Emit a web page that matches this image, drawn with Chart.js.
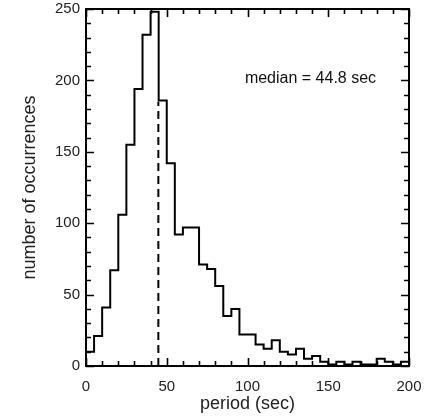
<!DOCTYPE html>
<html>
<head>
<meta charset="utf-8">
<script src="https://cdn.jsdelivr.net/npm/chart.js@4/dist/chart.umd.min.js"></script>
<style>
  html, body { margin: 0; padding: 0; background: #fff; }
  #wrap { width: 428px; height: 416px; }
</style>
</head>
<body>
<div id="wrap"><canvas id="hist"></canvas></div>
<script>
// left edge of each 5 s bin
const binStarts = [0, 5, 10, 15, 20, 25, 30, 35, 40, 45,
  50, 55, 60, 65, 70, 75, 80, 85, 90, 95,
  100, 105, 110, 115, 120, 125, 130, 135, 140, 145,
  150, 155, 160, 165, 170, 175, 180, 185, 190, 195];
const binEnd = 200;
// number of occurrences per bin
const counts = [10, 21, 41, 67, 106, 155, 194, 232, 248, 186,
  142, 92, 97, 97, 71, 68, 56, 35, 40, 22,
  22, 15, 12, 18, 10, 8, 12, 5, 7, 3,
  1, 3, 1, 3, 1, 1, 5, 3, 1, 3];
const medianPeriod = 44.8;
const medianTop = 185;
const medianLabel = "median = 44.8 sec";

const xTicks = [0, 50, 100, 150, 200];
const yTicks = [0, 50, 100, 150, 200, 250];

const puntosHist = binStarts.map((x, i) => ({ x: x, y: counts[i] }));
puntosHist.push({ x: binEnd, y: counts[counts.length - 1] });

const fuente = "'Liberation Sans', Arial, Helvetica, sans-serif";

// ticks hacia dentro en los cuatro lados + marco + texto de la mediana
const marcoIDL = {
  id: "marcoIDL",
  afterDatasetsDraw(chart) {
    const { ctx, chartArea: a, scales } = chart;
    const x = scales.x, y = scales.y;
    ctx.save();
    ctx.strokeStyle = "#000";
    ctx.lineWidth = 1.6;
    ctx.beginPath();
    for (let v = xTicks[0]; v <= xTicks[xTicks.length - 1]; v += 10) {
      const px = Math.round(x.getPixelForValue(v)) + 0.5;
      const len = v % 50 === 0 ? 8 : 5;
      ctx.moveTo(px, a.bottom); ctx.lineTo(px, a.bottom - len);
      ctx.moveTo(px, a.top); ctx.lineTo(px, a.top + len);
    }
    for (let v = yTicks[0]; v <= yTicks[yTicks.length - 1]; v += 10) {
      const py = Math.round(y.getPixelForValue(v)) + 0.5;
      const len = v % 50 === 0 ? 8 : 5;
      ctx.moveTo(a.left, py); ctx.lineTo(a.left + len, py);
      ctx.moveTo(a.right, py); ctx.lineTo(a.right - len, py);
    }
    ctx.stroke();
    ctx.lineWidth = 2;
    ctx.strokeRect(a.left, a.top, a.right - a.left, a.bottom - a.top);

    ctx.fillStyle = "#111";
    ctx.font = "16px " + fuente;
    ctx.textAlign = "center";
    ctx.textBaseline = "middle";
    ctx.fillText(medianLabel, x.getPixelForValue(139), y.getPixelForValue(201));
    ctx.restore();
  },
};

new Chart(document.getElementById("hist"), {
  type: "line",
  data: {
    datasets: [
      {
        data: puntosHist,
        borderColor: "#000",
        borderWidth: 2,
        stepped: "before",
        pointRadius: 0,
        fill: false,
      },
      {
        data: [{ x: medianPeriod, y: 0 }, { x: medianPeriod, y: medianTop }],
        borderColor: "#000",
        borderWidth: 2,
        borderDash: [8, 5],
        pointRadius: 0,
        fill: false,
      },
    ],
  },
  options: {
    responsive: true,
    maintainAspectRatio: false,
    animation: false,
    layout: { padding: { top: 9, right: 19, left: 0, bottom: 0 } },
    plugins: { legend: { display: false }, tooltip: { enabled: false } },
    scales: {
      x: {
        type: "linear",
        min: 0,
        max: 200,
        afterBuildTicks: (s) => { s.ticks = xTicks.map((v) => ({ value: v })); },
        afterFit: (s) => { s.height = 50; s.paddingLeft = 0; s.paddingRight = 0; },
        grid: { display: false, drawTicks: false },
        border: { display: false },
        ticks: { color: "#222", font: { family: fuente, size: 15 }, padding: 12, maxRotation: 0 },
        title: {
          display: true,
          text: "period (sec)",
          color: "#222",
          font: { family: fuente, size: 18 },
          padding: { top: 0, bottom: 1 },
        },
      },
      y: {
        min: 0,
        max: 250,
        afterBuildTicks: (s) => { s.ticks = yTicks.map((v) => ({ value: v })); },
        afterFit: (s) => { s.width = 86; s.paddingTop = 0; s.paddingBottom = 0; },
        grid: { display: false, drawTicks: false },
        border: { display: false },
        ticks: { color: "#222", font: { family: fuente, size: 15 }, padding: 6 },
        title: {
          display: true,
          text: "number of occurrences",
          color: "#222",
          font: { family: fuente, size: 18 },
          padding: { top: 19, bottom: 0 },
        },
      },
    },
  },
  plugins: [marcoIDL],
});
</script>
</body>
</html>
